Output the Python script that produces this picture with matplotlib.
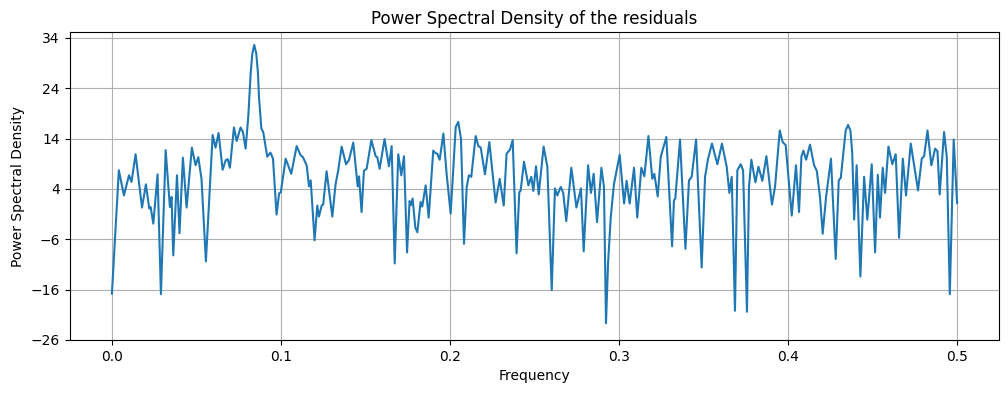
import matplotlib
matplotlib.use("Agg")
import matplotlib.pyplot as plt
import numpy as np

# Frequency (cycles/sample) and PSD (dB)
freq = [
    0.0000, 0.0041, 0.0071, 0.0101, 0.0116, 0.0140, 0.0178, 0.0201, 0.0221, 0.0229,
    0.0245, 0.0270, 0.0290, 0.0318, 0.0343, 0.0353, 0.0363, 0.0385, 0.0400, 0.0420,
    0.0442, 0.0473, 0.0495, 0.0511, 0.0530, 0.0556, 0.0596, 0.0613, 0.0631, 0.0655,
    0.0673, 0.0685, 0.0698, 0.0722, 0.0738, 0.0761, 0.0775, 0.0791, 0.0807, 0.0821,
    0.0831, 0.0842, 0.0854, 0.0864, 0.0870, 0.0884, 0.0895, 0.0919, 0.0938, 0.0953,
    0.0974, 0.0989, 0.0999, 0.1028,
    0.1061, 0.1093, 0.1116, 0.1130, 0.1152, 0.1166, 0.1176, 0.1199, 0.1215, 0.1225,
    0.1241, 0.1250, 0.1270, 0.1304, 0.1323, 0.1339, 0.1359, 0.1385, 0.1402, 0.1428,
    0.1454, 0.1462, 0.1477, 0.1491, 0.1507, 0.1535, 0.1560, 0.1570, 0.1584, 0.1613,
    0.1639, 0.1655, 0.1673, 0.1694, 0.1712, 0.1728, 0.1746, 0.1761, 0.1770, 0.1779,
    0.1795, 0.1807, 0.1826, 0.1836, 0.1856, 0.1874, 0.1901, 0.1915, 0.1925, 0.1939,
    0.1961, 0.1980, 0.2004, 0.2034, 0.2049, 0.2065, 0.2083, 0.2099, 0.2112, 0.2126,
    0.2152, 0.2168,
    0.2182, 0.2207, 0.2233, 0.2270, 0.2294, 0.2318, 0.2335, 0.2355, 0.2371, 0.2394,
    0.2410, 0.2418, 0.2438, 0.2464, 0.2481, 0.2493, 0.2509, 0.2525, 0.2554, 0.2576,
    0.2602, 0.2621, 0.2635, 0.2655, 0.2670, 0.2688, 0.2718, 0.2748, 0.2775, 0.2791,
    0.2817, 0.2834, 0.2850, 0.2870, 0.2896, 0.2911, 0.2923, 0.2935, 0.2951, 0.2970,
    0.3004, 0.3030, 0.3045, 0.3063, 0.3089, 0.3108, 0.3132, 0.3150, 0.3174, 0.3197,
    0.3209, 0.3229, 0.3247, 0.3280, 0.3314, 0.3325, 0.3333, 0.3361, 0.3393, 0.3414,
    0.3430, 0.3456, 0.3489, 0.3509, 0.3527, 0.3550, 0.3582, 0.3609, 0.3637, 0.3653,
    0.3667, 0.3686, 0.3700, 0.3720, 0.3734, 0.3757, 0.3769, 0.3783, 0.3807, 0.3825,
    0.3848, 0.3872, 0.3905, 0.3923, 0.3951, 0.3968, 0.3986, 0.4022, 0.4047, 0.4065,
    0.4079, 0.4091, 0.4107, 0.4130, 0.4154, 0.4170, 0.4189, 0.4205, 0.4225, 0.4254,
    0.4282, 0.4300, 0.4312, 0.4341, 0.4355, 0.4369, 0.4380, 0.4391, 0.4406, 0.4428,
    0.4450, 0.4469,
    0.4495, 0.4515, 0.4531, 0.4544, 0.4560, 0.4574, 0.4594, 0.4617, 0.4637, 0.4657,
    0.4679, 0.4698, 0.4726, 0.4769, 0.4791, 0.4805, 0.4825, 0.4848, 0.4870, 0.4884,
    0.4897, 0.4923, 0.4939, 0.4957, 0.4980, 0.5000,
]
psd_db = [
    -16.8, 7.7, 2.7, 6.7, 5.4, 10.9, 0.3, 4.9, 0.1, 0.4,
    -2.9, 6.9, -16.9, 11.7, 0.4, 2.4, -9.2, 6.7, -4.8, 10.2,
    0.3, 12.2, 8.7, 10.3, 6.0, -10.4, 14.7, 12.2, 15.1, 7.8,
    9.7, 9.9, 8.2, 16.2, 13.5, 16.2, 15.3, 12.0, 18.5, 27.0,
    30.9, 32.6, 30.9, 27.0, 22.3, 16.0, 15.3, 10.4, 11.2, 10.0,
    -1.1, 3.1, 3.3, 10.0,
    7.0, 12.5, 10.7, 10.3, 8.7, 4.5, 5.7, -6.2, 0.7, -1.5,
    0.7, 0.9, 7.5, -1.5, 4.9, 7.7, 12.4, 8.9, 9.7, 13.2,
    4.5, 6.5, -0.6, 7.6, 8.0, 13.7, 10.5, 10.3, 8.0, 13.9,
    8.5, 12.5, -10.8, 10.9, 6.7, 10.5, -8.6, 1.6, 0.8, 2.1,
    -3.7, -4.6, 1.4, 0.5, 4.7, -1.7, 11.6, 11.1, 11.0, 9.8,
    15.0, 7.0, -0.9, 16.3, 17.3, 14.0, -6.9, 4.4, 6.7, 6.4,
    14.5, 12.5,
    12.2, 6.9, 13.3, 1.3, 6.0, 0.7, 11.0, 11.8, 13.7, -8.8,
    3.4, 3.6, 9.4, 4.7, 6.4, 3.6, 8.5, 2.9, 12.4, 8.4,
    -16.1, 4.1, 2.7, 4.4, 3.2, -2.4, 8.2, 0.3, 4.1, -8.4,
    8.7, 3.2, 7.0, -2.6, 8.2, 4.4, -22.7, -10.9, -1.7, 4.9,
    10.8, 1.1, 5.6, 1.1, 8.2, -1.7, 8.2, 6.5, 14.5, 6.0,
    7.0, 2.5, 10.4, 14.3, -7.4, 1.7, 2.1, 13.8, -7.9, 5.7,
    6.4, 13.8, -11.6, 6.4, 10.0, 13.0, 8.9, 13.0, 8.4, 3.2,
    6.4, -20.2, 7.7, 8.9, 7.7, -20.4, 4.4, 9.8, 5.3, 8.4,
    5.6, 10.5, 0.9, 4.4, 15.6, 13.3, 12.7, -1.3, 8.7, -0.6,
    10.4, 11.6, 9.8, 12.8, 8.7, 7.6, 2.4, -4.9, 2.4, 10.0,
    -9.9, 5.7, 6.2, 15.6, 16.7, 15.6, 11.0, -2.1, 8.7, -13.4,
    6.4, -2.1,
    8.9, -8.6, 6.8, -1.7, 8.2, 3.2, 12.4, 8.9, 10.9, -5.7,
    10.0, 2.7, 13.0, 3.7, 10.0, 10.5, 15.6, 8.7, 12.0, 11.5,
    2.9, 15.3, 10.4, -16.9, 13.8, 1.2,
]
ytick_values = np.arange(-26, 35, 10)


def main() -> None:
    fig = plt.figure(figsize=(10.08, 3.93), dpi=100)
    ax = fig.add_axes([0.0691, 0.1349, 0.9223, 0.7829])

    ax.plot(freq, psd_db, color="C0", linewidth=1.5)

    ax.set_xlim(-0.025, 0.525)
    ax.set_ylim(-26, 35.1)
    ax.set_yticks(ytick_values)
    ax.grid(True)

    ax.set_title("Power Spectral Density of the residuals")
    ax.set_xlabel("Frequency")
    ax.set_ylabel("Power Spectral Density")

    fig.savefig("out.png", dpi=100)
    plt.close(fig)


if __name__ == "__main__":
    main()
